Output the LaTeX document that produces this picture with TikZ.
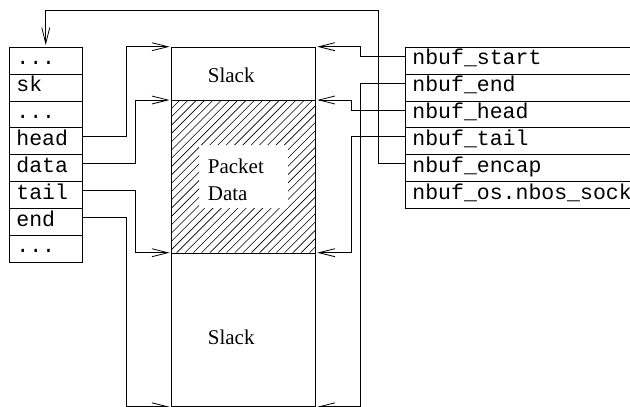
\documentclass[tikz,border=0pt]{standalone}
\usepackage{fontspec}
\setmainfont{Liberation Serif}
\setmonofont{Liberation Mono}
\usetikzlibrary{arrows.meta,calc}
\tikzset{
  cell/.style={draw, line width=0.8pt, rectangle, anchor=north west, inner xsep=7pt, inner ysep=0pt,
    minimum height=26.9pt, text height=12.6pt, text depth=4.4pt, align=left,
    font=\fontsize{21.5}{24}\selectfont\ttfamily},
  lcell/.style={cell, text width=58.7pt, minimum width=72.7pt},
  rcell/.style={cell, text width=246pt, minimum width=260pt},
  bufbox/.style={draw, line width=0.8pt, rectangle, anchor=north west, inner sep=0pt, minimum width=144pt},
  lbl/.style={anchor=base west, inner sep=0pt, font=\fontsize{21}{24}\selectfont\rmfamily},
  conn/.style={line width=0.8pt, -{Straight Barb[length=16pt,width=8pt,line width=0.8pt]}, shorten >=1.5pt},
}
\begin{document}
\begin{tikzpicture}[x={(1pt,0)}, y={(0,-1pt)}]
\clip (0,0) rectangle (630,407);
\useasboundingbox (0,0) rectangle (630,407);
% left structure
\node[lcell] (L1) at (9,46.7) {...};
\node[lcell] (L2) at (9,73.6) {sk};
\node[lcell] (L3) at (9,100.5) {...};
\node[lcell] (Lhead) at (9,127.4) {head};
\node[lcell] (Ldata) at (9,154.3) {data};
\node[lcell] (Ltail) at (9,181.2) {tail};
\node[lcell] (Lend) at (9,208.1) {end};
\node[lcell] (L8) at (9,235.0) {...};
% right structure
\node[rcell] (R1) at (405,46.7) {nbuf\_start};
\node[rcell] (R2) at (405,73.6) {nbuf\_end};
\node[rcell] (R3) at (405,100.5) {nbuf\_head};
\node[rcell] (R4) at (405,127.4) {nbuf\_tail};
\node[rcell] (R5) at (405,154.3) {nbuf\_encap};
\node[rcell] (R6) at (405,181.2) {nbuf\_os.nbos\_sock};
% hatching
\begin{scope}[even odd rule]
  \clip (171,100) rectangle (315,252.7) (199,145) rectangle (288,208);
  \foreach \k in {-2,...,38} {
    \draw[line width=0.6pt] ({171.7+8.3*\k+10},90) -- ({171.7+8.3*\k-163},263);
  }
\end{scope}
% buffer
\node[bufbox, minimum height=53.3pt] (slacktop) at (171,46.7) {};
\node[bufbox, minimum height=152.7pt] (pdata) at (171,100) {};
\node[bufbox, minimum height=153.3pt] (slackbot) at (171,252.7) {};
\node[lbl] (t1) at (207.7,82.7) {Slack};
\node[lbl] (t2) at (207.7,173.3) {Packet};
\node[lbl] (t3) at (207.7,200.7) {Data};
\node[lbl] (t4) at (207.7,344) {Slack};
% left connectors
\draw[conn] ([yshift=4.45pt]Lhead.east) -- ++(44.3,0) |- (slacktop.north west);
\draw[conn] ([yshift=4.45pt]Ldata.east) -- ++(53.3,0) |- (pdata.north west);
\draw[conn] ([yshift=4.45pt]Ltail.east) -- ++(53.3,0) |- (slackbot.north west);
\draw[conn] ([yshift=4.45pt]Lend.east) -- ++(44.3,0) |- (slackbot.south west);
% right connectors
\draw[conn] ([yshift=4.45pt]R1.west) -- ++(-45,0) |- (slacktop.north east);
\draw[conn] ([yshift=4.45pt]R2.west) -- ++(-45,0) |- (slackbot.south east);
\draw[conn] ([yshift=4.45pt]R3.west) -- ++(-54,0) |- (pdata.north east);
\draw[conn] ([yshift=4.45pt]R4.west) -- ++(-54,0) |- (slackbot.north east);
\draw[conn] ([yshift=4.45pt]R5.west) -- ++(-27,0) |- ([yshift=36pt]L1.north) -- (L1.north);
\end{tikzpicture}
\end{document}
